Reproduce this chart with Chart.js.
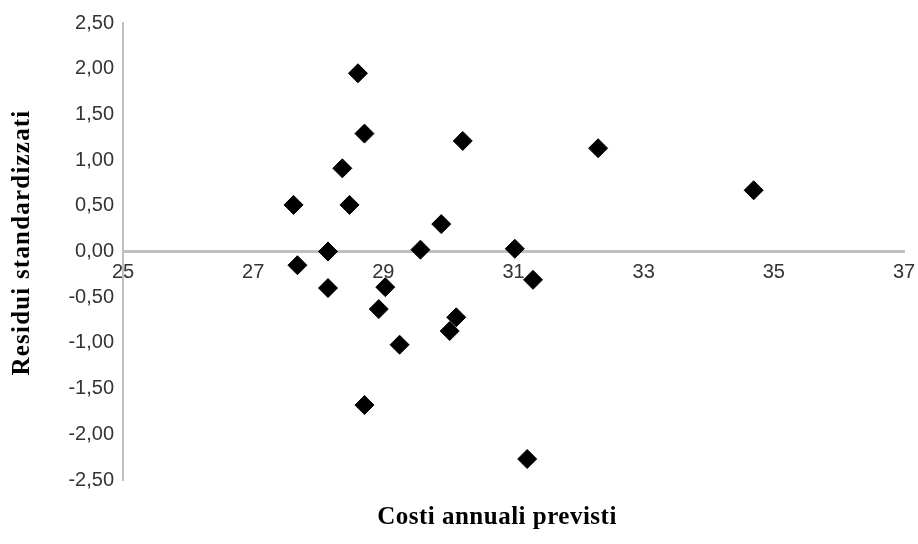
<!DOCTYPE html>
<html>
<head>
<meta charset="utf-8">
<script src="https://cdn.jsdelivr.net/npm/chart.js@4/dist/chart.umd.min.js"></script>
<style>
html,body{margin:0;padding:0;background:#fff;}
#wrap{width:918px;height:544px;position:relative;}
</style>
</head>
<body>
<div id="wrap"><canvas id="c" width="918" height="544"></canvas></div>
<script>
const xValues = [27.62, 27.68, 28.15, 28.15, 28.37, 28.48, 28.61, 28.71, 28.71, 28.93, 29.03,
                 29.25, 29.57, 29.89, 30.02, 30.12, 30.22, 31.02, 31.21, 31.30, 32.30, 34.69];
const yValues = [0.51, -0.15, 0.00, -0.40, 0.91, 0.51, 1.95, 1.29, -1.68, -0.63, -0.39,
                 -1.02, 0.02, 0.30, -0.87, -0.72, 1.21, 0.03, -2.27, -0.31, 1.13, 0.67];
const xTicks = [25, 27, 29, 31, 33, 35, 37];
const yTicks = [-2.5, -2.0, -1.5, -1.0, -0.5, 0.0, 0.5, 1.0, 1.5, 2.0, 2.5];
const xTitle = 'Costi annuali previsti';
const yTitle = 'Residui standardizzati';

const points = xValues.map((x, i) => ({ x: x, y: yValues[i] }));

const titlePlugin = {
  id: 'axisTitles',
  afterDraw(chart) {
    const ctx = chart.ctx;
    const area = chart.chartArea;
    ctx.save();
    ctx.fillStyle = '#000';
    ctx.font = 'bold 25px "Liberation Serif", "Times New Roman", serif';
    if ('letterSpacing' in ctx) ctx.letterSpacing = '0.5px';
    ctx.textAlign = 'center';
    ctx.textBaseline = 'middle';
    ctx.fillText(xTitle, 497, 518);
    ctx.translate(23, (area.top + area.bottom) / 2 - 9);
    ctx.rotate(-Math.PI / 2);
    if ('letterSpacing' in ctx) ctx.letterSpacing = '1.2px';
    ctx.fillText(yTitle, 0, 0);
    ctx.restore();
  }
};

new Chart(document.getElementById('c'), {
  type: 'scatter',
  data: {
    datasets: [{
      data: points,
      pointStyle: 'rectRot',
      pointRadius: 9.5,
      borderWidth: 1,
      backgroundColor: '#000',
      borderColor: '#000'
    }]
  },
  options: {
    responsive: false,
    devicePixelRatio: 1,
    animation: false,
    layout: { padding: { left: 0, right: 14, top: 23, bottom: 64 } },
    plugins: { legend: { display: false }, tooltip: { enabled: false } },
    scales: {
      x: {
        type: 'linear',
        min: xTicks[0],
        max: xTicks[xTicks.length - 1],
        position: { y: 0 },
        afterBuildTicks: (s) => { s.ticks = xTicks.map(v => ({ value: v })); },
        afterFit: (s) => { s.height = 0; s.paddingLeft = 0; s.paddingRight = 0; },
        grid: { display: false, drawTicks: false },
        border: { display: true, color: '#c0c0c0', width: 3 },
        ticks: {
          padding: 9,
          color: '#333',
          font: { family: '"Liberation Sans", Arial, sans-serif', size: 20 },
          callback: (v) => String(v)
        }
      },
      y: {
        type: 'linear',
        position: 'left',
        min: yTicks[0],
        max: yTicks[yTicks.length - 1],
        afterBuildTicks: (s) => { s.ticks = yTicks.map(v => ({ value: v })); },
        afterFit: (s) => { s.width = 123; s.paddingTop = 0; s.paddingBottom = 0; },
        grid: { display: false, drawTicks: false },
        border: { display: true, color: '#c0c0c0', width: 2 },
        ticks: {
          padding: 9,
          color: '#333',
          font: { family: '"Liberation Sans", Arial, sans-serif', size: 20 },
          callback: (v) => Number(v).toFixed(2).replace('.', ',')
        }
      }
    }
  },
  plugins: [titlePlugin]
});
</script>
</body>
</html>
